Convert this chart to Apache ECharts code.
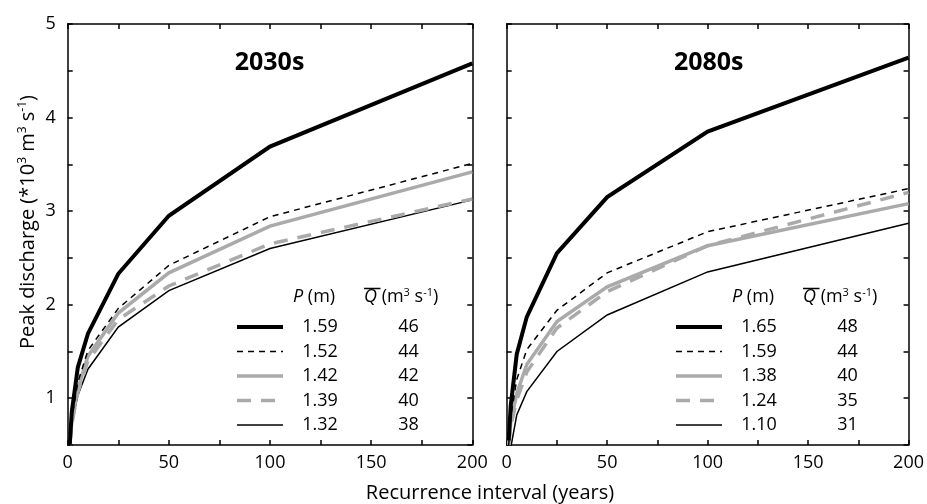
<!DOCTYPE html>
<html><head><meta charset="utf-8">
<script src="https://cdn.jsdelivr.net/npm/echarts@6/dist/echarts.min.js"></script>
<style>html,body{margin:0;padding:0;background:#fff}#c{width:927px;height:504px}</style>
</head><body><div id="c"></div>
<script>
const years = [1, 2, 5, 10, 25, 50, 100, 200];
const xTicks = [0, 50, 100, 150, 200];
const yTicks = [1, 2, 3, 4, 5];
const panelTitles = ['2030s', '2080s'];
// 2030s
const p2030 = ['1.59', '1.52', '1.42', '1.39', '1.32'];
const q2030 = ['46', '44', '42', '40', '38'];
const s2030_1 = [0.50, 0.85, 1.33, 1.69, 2.33, 2.95, 3.69, 4.58];
const s2030_2 = [0.50, 0.78, 1.17, 1.51, 1.96, 2.42, 2.94, 3.51];
const s2030_3 = [0.50, 0.74, 1.10, 1.45, 1.91, 2.34, 2.84, 3.42];
const s2030_4 = [0.50, 0.72, 1.06, 1.40, 1.84, 2.20, 2.65, 3.13];
const s2030_5 = [0.50, 0.72, 1.03, 1.31, 1.76, 2.15, 2.60, 3.12];
// 2080s
const p2080 = ['1.65', '1.59', '1.38', '1.24', '1.10'];
const q2080 = ['48', '44', '40', '35', '31'];
const s2080_1 = [0.55, 0.92, 1.47, 1.87, 2.55, 3.15, 3.85, 4.64];
const s2080_2 = [0.50, 0.80, 1.20, 1.52, 1.94, 2.34, 2.78, 3.24];
const s2080_3 = [0.50, 0.74, 1.05, 1.36, 1.82, 2.19, 2.63, 3.08];
const s2080_4 = [0.50, 0.70, 0.98, 1.28, 1.75, 2.14, 2.63, 3.20];
const s2080_5 = [0.30, 0.47, 0.82, 1.07, 1.50, 1.89, 2.35, 2.87];

const FONT = 'Open Sans';
const styles = [
  {color: '#000', width: 4, type: 'solid'},
  {color: '#000', width: 1.5, type: [6, 5]},
  {color: '#aaaaaa', width: 3.5, type: 'solid'},
  {color: '#aaaaaa', width: 3.5, type: [14, 10]},
  {color: '#000', width: 1.5, type: 'solid'}
];
const panels = [
  {vals: [s2030_1, s2030_2, s2030_3, s2030_4, s2030_5], P: p2030, Q: q2030},
  {vals: [s2080_1, s2080_2, s2080_3, s2080_4, s2080_5], P: p2080, Q: q2080}
];
const grids = [
  {left: 67.7, top: 24, width: 404.6, height: 421},
  {left: 506.7, top: 24, width: 405, height: 421}
];
const axisLine = {show: true, onZero: false, lineStyle: {color: '#000', width: 1.5}};
const tick = {inside: true, length: 5, lineStyle: {color: '#000', width: 1.5}};
const xAxes = [], yAxes = [], series = [], legends = [], graphics = [];
const nameMap = {};
panels.forEach((pn, g) => {
  xAxes.push({type: 'value', gridIndex: g, position: 'bottom', min: 0, max: 200, interval: 25,
    axisLine, axisTick: tick, splitLine: {show: false},
    axisLabel: {margin: 9, fontFamily: FONT, fontSize: 18, color: '#000',
      formatter: v => xTicks.includes(v) ? String(v) : ''}});
  xAxes.push({type: 'value', gridIndex: g, position: 'top', min: 0, max: 200, interval: 25,
    axisLine, axisTick: tick, splitLine: {show: false}, axisLabel: {show: false}});
  yAxes.push({type: 'value', gridIndex: g, position: 'left', min: 0.5, max: 5, interval: 0.5,
    axisLine, axisTick: tick, splitLine: {show: false},
    axisLabel: {show: g === 0, margin: 12, fontFamily: FONT, fontSize: 18, color: '#000',
      formatter: v => yTicks.includes(v) ? String(v) : ''}});
  yAxes.push({type: 'value', gridIndex: g, position: 'right', min: 0.5, max: 5, interval: 0.5,
    axisLine, axisTick: tick, splitLine: {show: false}, axisLabel: {show: false}});
  const names = [];
  pn.vals.forEach((vals, i) => {
    const name = 'p' + g + '_' + i;
    names.push(name);
    nameMap[name] = {p: pn.P[i], q: pn.Q[i]};
    series.push({
      name, type: 'line', xAxisIndex: g * 2, yAxisIndex: g * 2,
      data: years.map((x, k) => [x, vals[k]]),
      symbol: 'none', showSymbol: false, silent: true, clip: true,
      lineStyle: {color: styles[i].color, width: styles[i].width, type: styles[i].type, cap: 'butt', join: 'miter'},
      itemStyle: {color: styles[i].color},
      z: 10 - i
    });
  });
  const L = grids[g].left + 162.3;
  legends.push({
    data: names, orient: 'vertical', left: L, top: 313,
    itemWidth: 46, itemHeight: 18, itemGap: 6.5, selectedMode: false,
    itemStyle: {opacity: 0, borderWidth: 0},
    lineStyle: {width: 'inherit', type: 'inherit', color: 'inherit', opacity: 1},
    textStyle: {fontFamily: FONT, fontSize: 18, color: '#000', lineHeight: 18,
      rich: {p: {width: 64, align: 'center', fontFamily: FONT, fontSize: 18, color: '#000'},
             q: {width: 113, align: 'center', fontFamily: FONT, fontSize: 18, color: '#000'}}},
    formatter: n => '{p|' + nameMap[n].p + '}{q|' + nameMap[n].q + '}'
  });
  // headers
  graphics.push({type: 'text', x: L + 63, y: 297, style: {
    text: '{i|P} (m)', align: 'left', verticalAlign: 'middle', fill: '#000',
    font: '18px "' + FONT + '"',
    rich: {i: {fontStyle: 'italic', fontFamily: FONT, fontSize: 18, fill: '#000'}}}});
  graphics.push({type: 'text', x: L + 134, y: 297, style: {
    text: '{i|Q} (m{s|3} s{s|-1})', align: 'left', verticalAlign: 'middle', fill: '#000',
    font: '18px "' + FONT + '"',
    rich: {i: {fontStyle: 'italic', fontFamily: FONT, fontSize: 18, fill: '#000', lineHeight: 20},
           s: {fontFamily: FONT, fontSize: 11, fill: '#000', verticalAlign: 'top', lineHeight: 20}}}});
  graphics.push({type: 'line', shape: {x1: L + 134, y1: 288.5, x2: L + 150.5, y2: 288.5},
    style: {stroke: '#000', lineWidth: 1.5}});
  graphics.push({type: 'text', x: grids[g].left + grids[g].width / 2 - 0.5, y: 63, style: {
    text: panelTitles[g], align: 'center', verticalAlign: 'middle', fill: '#000',
    font: 'bold 25px "' + FONT + '"'}});
});
graphics.push({type: 'text', x: 490, y: 493, style: {
  text: 'Recurrence interval (years)', align: 'center', verticalAlign: 'middle', fill: '#000',
  font: '20px "' + FONT + '"'}});
graphics.push({type: 'text', x: 28, y: 222, rotation: Math.PI / 2, style: {
  text: 'Peak discharge (*10{s|3} m{s|3} s{s|-1})', align: 'center', verticalAlign: 'middle', fill: '#000',
  font: '20px "' + FONT + '"',
  rich: {s: {fontFamily: FONT, fontSize: 12, fill: '#000', verticalAlign: 'top', lineHeight: 22}}}});

const chart = echarts.init(document.getElementById('c'), null, {renderer: 'canvas'});
chart.setOption({
  animation: false,
  textStyle: {fontFamily: FONT},
  grid: grids, xAxis: xAxes, yAxis: yAxes, series, legend: legends, graphic: graphics
});
</script></body></html>
